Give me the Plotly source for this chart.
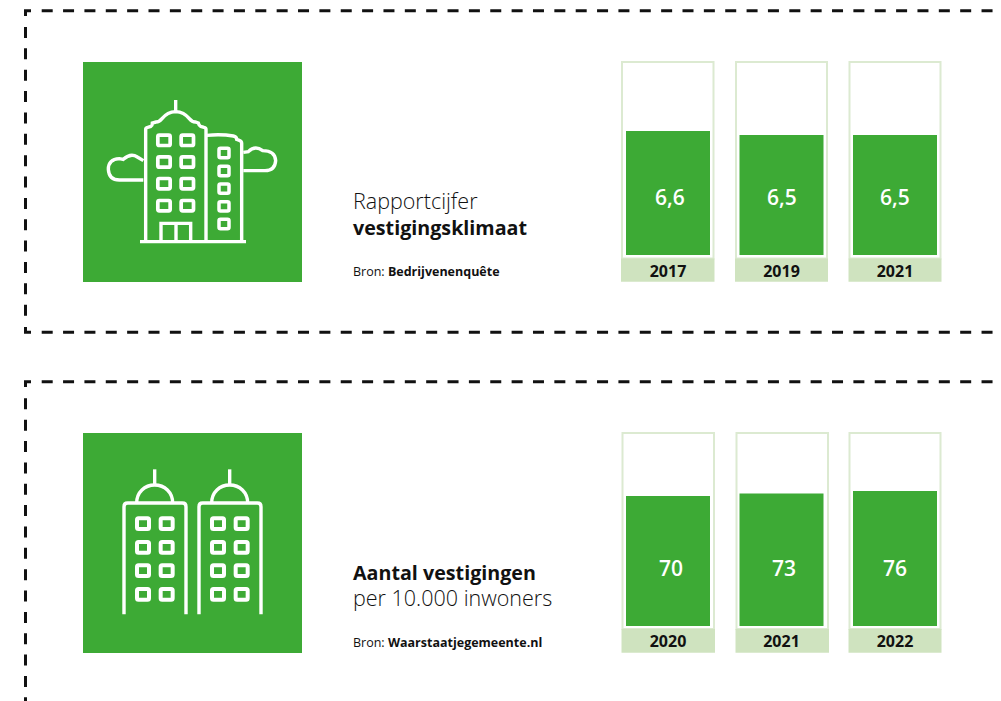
import plotly.graph_objects as go

# ---------- data ----------
years_a = ["2017", "2019", "2021"]
values_a = [6.6, 6.5, 6.5]
labels_a = ["6,6", "6,5", "6,5"]
years_b = ["2020", "2021", "2022"]
values_b = [70, 73, 76]
labels_b = ["70", "73", "76"]

GREEN = "#3DAA35"
BAND = "#CFE3BF"
EDGE = "#DCEAD1"
FONT = "Open Sans"
W, H = 1001, 701

fig = go.Figure()
shapes, notes = [], []


def line(path, color="white", width=3.4, dash=None):
    s = dict(type="path", xref="x", yref="y", path=path, layer="above",
             line=dict(color=color, width=width))
    if dash:
        s["line"]["dash"] = dash
    shapes.append(s)


def rect(x0, y0, x1, y1, fill, edge=None, lw=0, layer="below"):
    shapes.append(dict(type="rect", xref="x", yref="y", x0=x0, y0=y0, x1=x1, y1=y1,
                       fillcolor=fill, layer=layer,
                       line=dict(color=edge or fill, width=lw)))


def text(x, y, s, size, color="#111111", weight=None, xref="x", anchor="left", xshift=0):
    f = dict(family=FONT, size=size, color=color)
    if weight:
        f["weight"] = weight
    notes.append(dict(x=x, y=y, xref=xref, yref="y", text=s, showarrow=False, font=f,
                      xanchor=anchor, yanchor="middle", xshift=xshift, align="left"))


# ---------- dashed frames ----------
DASH = "11px,10.36px"
line(f"M41.7,10.7 L{W},10.7", "#111", 3, DASH)
line("M25.5,27 L25.5,321", "#111", 3, DASH)
line("M25.5,16 L25.5,10.7 L31,10.7", "#111", 3)
line(f"M41.7,332.2 L{W},332.2", "#111", 3, DASH)
line("M25.5,327 L25.5,332.2 L31,332.2", "#111", 3)
line(f"M41.7,381.7 L{W},381.7", "#111", 3, DASH)
line("M25.5,387 L25.5,381.7 L31,381.7", "#111", 3)
line(f"M25.5,398.3 L25.5,{H}", "#111", 3, DASH)

# ---------- icon panels ----------
rect(83, 62, 302, 282, GREEN)
rect(83, 433, 302, 653, GREEN)


def window(ox, oy, cx, cy, w, h, r=1.5):
    x0, x1 = ox + (cx - w / 2) / 3, ox + (cx + w / 2) / 3
    y0, y1 = oy + (cy - h / 2) / 3, oy + (cy + h / 2) / 3
    return (f"M{x0+r},{y0} L{x1-r},{y0} Q{x1},{y0} {x1},{y0+r} L{x1},{y1-r} Q{x1},{y1} {x1-r},{y1} "
            f"L{x0+r},{y1} Q{x0},{y1} {x0},{y1-r} L{x0},{y0+r} Q{x0},{y0} {x0+r},{y0} Z")


def zpath(ox, oy, spec):
    out = []
    for tok in spec.split():
        if tok[0].isalpha():
            out.append(tok)
        else:
            a, b = tok.split(",")
            out.append(f"{ox + float(a) / 3:.2f},{oy + float(b) / 3:.2f}")
    return " ".join(out)


# building + clouds
ox, oy = 80, 60
for sp in [
    "M 180,545 L 498,545",
    "M 197,545 L 197,208 Q 197,203 203,202 L 213,199 Q 217,197 217,189 L 228,186 Q 238,186 246,176 "
    "Q 262,156 287,155 Q 312,156 328,176 Q 336,186 346,186 L 355,189 Q 357,197 362,199 L 372,202 Q 378,203 378,208 L 378,545",
    "M 287,120 L 287,155",
    "M 380,226 Q 425,222 460,228 Q 470,230 470,238 L 478,241 Q 485,243 485,250 L 485,545",
    "M 243,545 L 243,490 L 332,490 L 332,545",
    "M 288,490 L 288,545",
    "M 190,302 L 172,291 Q 152,278 130,298 L 118,296 Q 85,298 85,328 Q 87,360 118,360 L 190,360",
    "M 490,277 L 505,275 Q 525,255 548,272 Q 585,272 587,302 Q 585,332 555,332 L 490,332",
]:
    line(zpath(ox, oy, sp))
for cx in (252, 322):
    for cy in (241, 306, 371, 437):
        line(window(ox, oy, cx, cy, 37, 31), width=3.7)
for cy in (279, 333, 386, 439, 492):
    line(window(ox, oy, 432, cy, 30, 28), width=3.5)

# twin towers
ox, oy = 80, 430
for dx in (0, 225):
    x = lambda v: v + dx
    for sp in [
        f"M {x(132)},553 L {x(132)},230 Q {x(132)},219 {x(143)},219 L {x(307)},219 Q {x(318)},219 {x(318)},230 L {x(318)},553",
        f"M {x(224)},118 L {x(224)},165",
        f"M {x(170)},219 C {x(170)},187 {x(194)},165 {x(224)},165 C {x(254)},165 {x(278)},187 {x(278)},219",
    ]:
        line(zpath(ox, oy, sp))
    for cx in (189, 260):
        for cy in (281, 352, 422, 493):
            line(window(ox, oy, x(cx), cy, 36, 32), width=4)

# ---------- slots behind the bars ----------
slots_a = [(621, 714.5), (735, 828), (848.5, 941.5)]
slots_b = [(621.5, 715), (735.5, 829), (848.5, 941.5)]
for slots, top, band0, band1 in [(slots_a, 62, 258.5, 281.7), (slots_b, 433, 629, 652.7)]:
    for a, b in slots:
        rect(a + 1, top, b - 1, band0, "white", EDGE, 2)
        rect(a, band0, b, band1, BAND)

# ---------- captions ----------
TX = 350.5
LIGHT = '<span style="font-size:{}px;font-weight:300">{}</span>'
BOLD = '<span style="font-size:{}px"><b>{}</b></span>'
text(TX, 213.5, LIGHT.format(21.5, "Rapportcijfer") + "<br>" + BOLD.format(19.7, "vestigingsklimaat"), 19.7)
text(TX, 271.5, "Bron: <b>Bedrijvenenquête</b>", 12.5)
text(TX, 585, BOLD.format(19.7, "Aantal vestigingen") + "<br>" + LIGHT.format(21.5, "per 10.000 inwoners"), 19.7)
text(TX, 642.5, "Bron: <b>Waarstaatjegemeente.nl</b>", 12.5)

# ---------- bars ----------
FLOOR_A, TOP_A = 3.5, 8.325
FLOOR_B, TOP_B = -86, 145.6
BAR_W = 84 / 113.5

fig.add_trace(go.Bar(x=years_a, y=[v - FLOOR_A for v in values_a], base=FLOOR_A, width=BAR_W,
                     marker=dict(color=GREEN, line=dict(width=0)), xaxis="x2", yaxis="y2",
                     customdata=values_a, hovertemplate="%{x}: %{customdata}<extra></extra>"))
fig.add_trace(go.Bar(x=years_b, y=[v - FLOOR_B for v in values_b], base=FLOOR_B, width=BAR_W,
                     marker=dict(color=GREEN, line=dict(width=0)), xaxis="x3", yaxis="y3",
                     customdata=values_b, hovertemplate="%{x}: %{customdata}<extra></extra>"))

for i, (lab, shift) in enumerate(zip(labels_a, (2, 0, 0))):
    text(i, 196.5, lab, 21, color="white", weight=600, xref="x2", anchor="center", xshift=shift)
for i, (lab, shift) in enumerate(zip(labels_b, (3, 2, 0))):
    text(i, 567.5, lab, 21, color="white", weight=600, xref="x3", anchor="center", xshift=shift)

hidden = dict(visible=False, showgrid=False, zeroline=False, fixedrange=True)
xstart = 611.25 / W
xend = 951.75 / W
xcommon = dict(type="category", domain=[xstart, xend], range=[-0.5, 2.5], showline=False, showgrid=False,
               ticks="", fixedrange=True,
               tickfont=dict(family=FONT, size=16, color="#111", weight=700))
fig.update_layout(
    width=W, height=H, margin=dict(l=0, r=0, t=0, b=0), autosize=False,
    paper_bgcolor="white", plot_bgcolor="rgba(0,0,0,0)", showlegend=False,
    xaxis=dict(domain=[0, 1], range=[0, W], **hidden),
    yaxis=dict(domain=[0, 1], range=[H, 0], **hidden),
    xaxis2=dict(anchor="y2", categoryorder="array", categoryarray=years_a, ticklabelstandoff=5, **xcommon),
    yaxis2=dict(anchor="x2", domain=[1 - 255 / H, 1 - 62 / H], range=[FLOOR_A, TOP_A], **hidden),
    xaxis3=dict(anchor="y3", categoryorder="array", categoryarray=years_b, ticklabelstandoff=4, **xcommon),
    yaxis3=dict(anchor="x3", domain=[1 - 626 / H, 1 - 433 / H], range=[FLOOR_B, TOP_B], **hidden),
    shapes=shapes, annotations=notes,
)
fig.write_html("out.html", config=dict(displayModeBar=False),
               post_script="document.body.style.margin='0';document.body.style.overflow='hidden';")
